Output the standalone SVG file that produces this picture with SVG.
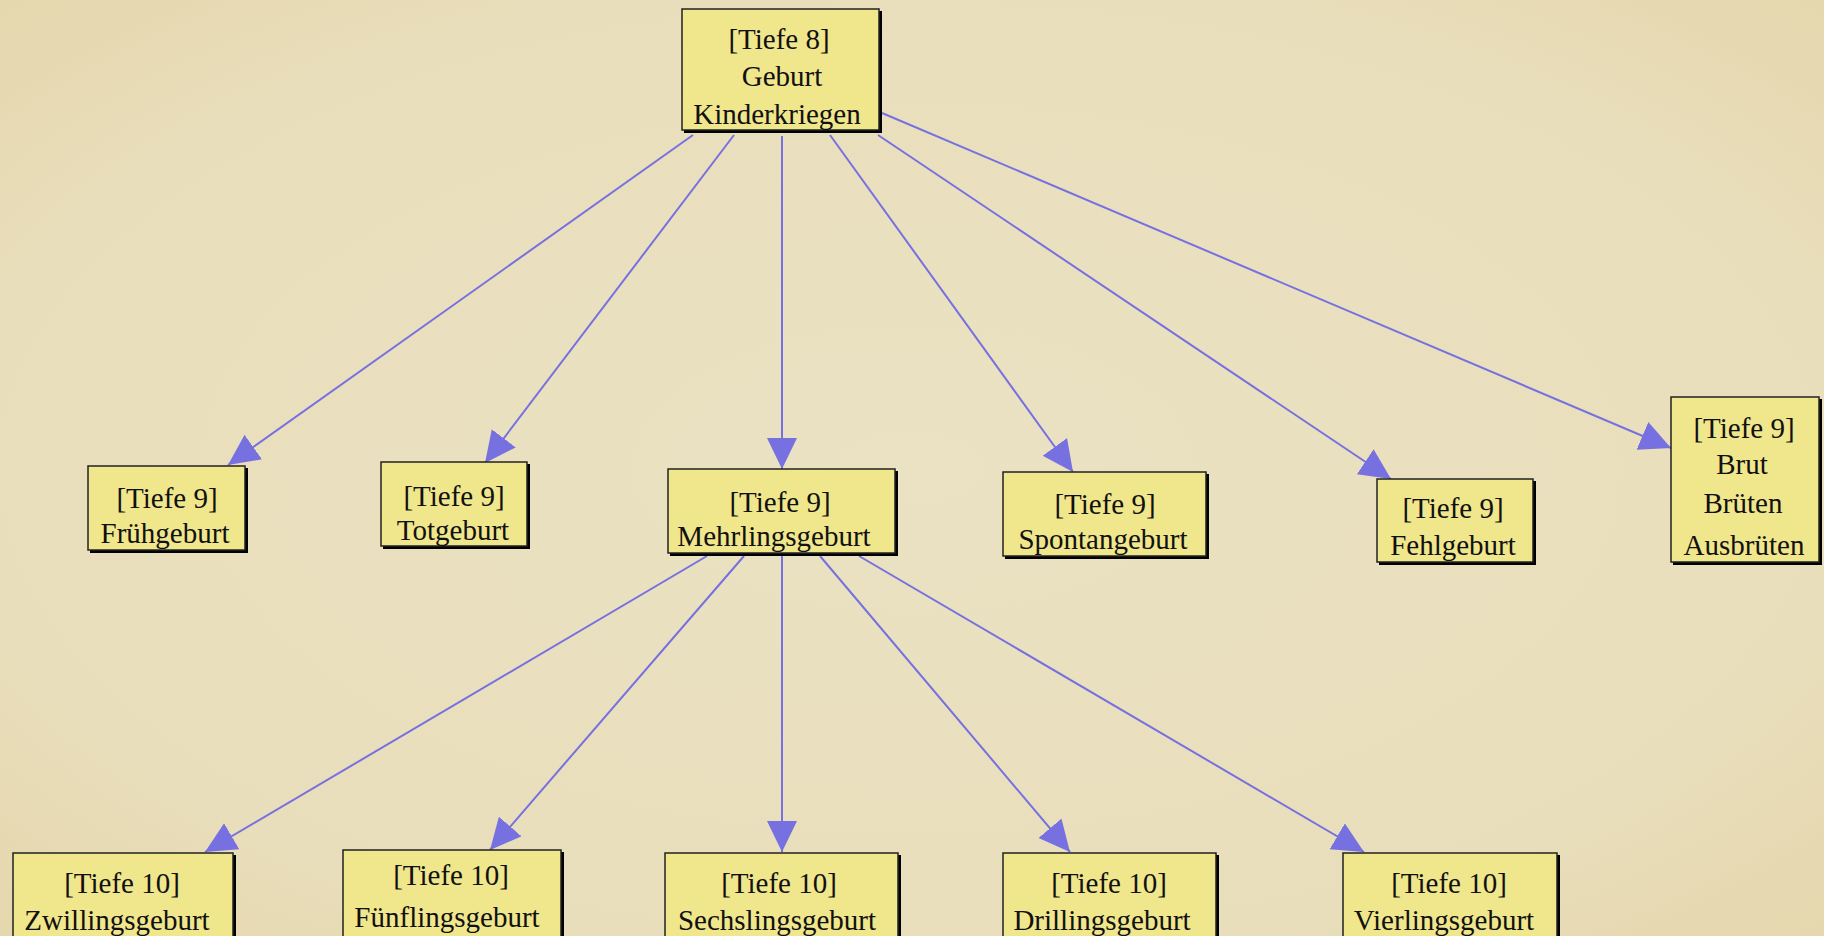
<svg xmlns="http://www.w3.org/2000/svg" width="1824" height="936" viewBox="0 0 1824 936">
<defs>
<radialGradient id="bg" cx="50%" cy="50%" r="75%">
<stop offset="0" stop-color="#EAE2C3"/>
<stop offset="0.7" stop-color="#E9DEBB"/>
<stop offset="1" stop-color="#E4D5AA"/>
</radialGradient>
<marker id="arr" markerUnits="userSpaceOnUse" markerWidth="34" markerHeight="34" refX="31" refY="15" orient="auto">
<path d="M0,0 L31,15 L0,30 Z" fill="#7670E0"/>
</marker>
</defs>
<style>
.box{fill:#F0E68C;stroke:#222;stroke-width:1.5}
.sh{fill:#000}
.t{font-family:"Liberation Serif","Times New Roman",serif;font-size:29px;fill:#111;text-anchor:middle}
.e{stroke:#7670E0;stroke-width:2;fill:none;marker-end:url(#arr)}
</style>
<rect width="1824" height="936" fill="url(#bg)"/>
<g id="edges">
<line class="e" x1="693" y1="135" x2="228" y2="465"/>
<line class="e" x1="734" y1="135" x2="485" y2="463"/>
<line class="e" x1="782" y1="136" x2="782" y2="469"/>
<line class="e" x1="830" y1="135" x2="1073" y2="472"/>
<line class="e" x1="878" y1="135" x2="1391" y2="479"/>
<line class="e" x1="882" y1="113" x2="1671" y2="448"/>
<line class="e" x1="707" y1="556" x2="205" y2="852"/>
<line class="e" x1="744" y1="556" x2="490" y2="850"/>
<line class="e" x1="782" y1="556" x2="782" y2="852"/>
<line class="e" x1="820" y1="556" x2="1070" y2="852"/>
<line class="e" x1="859" y1="556" x2="1364" y2="852"/>
</g>
<g id="root">
<rect class="sh" x="684" y="11" width="198" height="122"/>
<rect class="box" x="682" y="9" width="197" height="121"/>
<text class="t" x="779" y="49">[Tiefe 8]</text>
<text class="t" x="782" y="86">Geburt</text>
<text class="t" x="777" y="124">Kinderkriegen</text>
</g>
<g id="fruehgeburt">
<rect class="sh" x="90" y="468" width="158" height="85"/>
<rect class="box" x="88" y="466" width="157" height="84"/>
<text class="t" x="167" y="508">[Tiefe 9]</text>
<text class="t" x="165" y="543">Frühgeburt</text>
</g>
<g id="totgeburt">
<rect class="sh" x="383" y="464" width="147" height="85"/>
<rect class="box" x="381" y="462" width="146" height="84"/>
<text class="t" x="454" y="506">[Tiefe 9]</text>
<text class="t" x="453" y="540">Totgeburt</text>
</g>
<g id="mehrlingsgeburt">
<rect class="sh" x="670" y="471" width="228" height="85"/>
<rect class="box" x="668" y="469" width="227" height="84"/>
<text class="t" x="780" y="512">[Tiefe 9]</text>
<text class="t" x="774" y="546">Mehrlingsgeburt</text>
</g>
<g id="spontangeburt">
<rect class="sh" x="1005" y="474" width="204" height="85"/>
<rect class="box" x="1003" y="472" width="203" height="84"/>
<text class="t" x="1105" y="514">[Tiefe 9]</text>
<text class="t" x="1103" y="549">Spontangeburt</text>
</g>
<g id="fehlgeburt">
<rect class="sh" x="1379" y="481" width="157" height="84"/>
<rect class="box" x="1377" y="479" width="156" height="83"/>
<text class="t" x="1453" y="518">[Tiefe 9]</text>
<text class="t" x="1453" y="555">Fehlgeburt</text>
</g>
<g id="brut">
<rect class="sh" x="1673" y="399" width="149" height="166"/>
<rect class="box" x="1671" y="397" width="148" height="165"/>
<text class="t" x="1744" y="438">[Tiefe 9]</text>
<text class="t" x="1742" y="474">Brut</text>
<text class="t" x="1743" y="513">Brüten</text>
<text class="t" x="1744" y="555">Ausbrüten</text>
</g>
<g id="zwillingsgeburt">
<rect class="sh" x="15" y="855" width="221" height="100"/>
<rect class="box" x="13" y="853" width="220" height="100"/>
<text class="t" x="122" y="893">[Tiefe 10]</text>
<text class="t" x="117" y="930">Zwillingsgeburt</text>
</g>
<g id="fuenflingsgeburt">
<rect class="sh" x="345" y="852" width="219" height="100"/>
<rect class="box" x="343" y="850" width="218" height="100"/>
<text class="t" x="451" y="885">[Tiefe 10]</text>
<text class="t" x="447" y="927">Fünflingsgeburt</text>
</g>
<g id="sechslingsgeburt">
<rect class="sh" x="667" y="855" width="234" height="100"/>
<rect class="box" x="665" y="853" width="233" height="100"/>
<text class="t" x="779" y="893">[Tiefe 10]</text>
<text class="t" x="777" y="930">Sechslingsgeburt</text>
</g>
<g id="drillingsgeburt">
<rect class="sh" x="1005" y="855" width="214" height="100"/>
<rect class="box" x="1003" y="853" width="213" height="100"/>
<text class="t" x="1109" y="893">[Tiefe 10]</text>
<text class="t" x="1102" y="930">Drillingsgeburt</text>
</g>
<g id="vierlingsgeburt">
<rect class="sh" x="1345" y="855" width="215" height="100"/>
<rect class="box" x="1343" y="853" width="214" height="100"/>
<text class="t" x="1449" y="893">[Tiefe 10]</text>
<text class="t" x="1444" y="930">Vierlingsgeburt</text>
</g>
</svg>
